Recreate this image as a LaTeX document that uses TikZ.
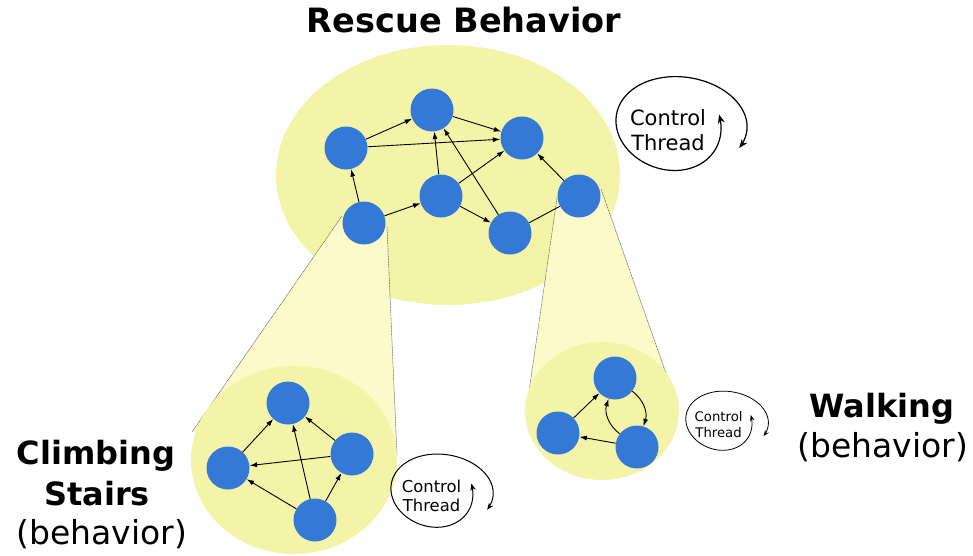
\documentclass[tikz,border=0pt]{standalone}
\usepackage{fontspec}
\setmainfont{DejaVu Sans}
\usetikzlibrary{arrows.meta}
\definecolor{nodeblue}{RGB}{53,121,214}
\definecolor{blobyellow}{RGB}{244,244,168}
\definecolor{coneyellow}{RGB}{252,250,200}

\begin{document}
\begin{tikzpicture}[x=1pt,y=-1pt,
	agent/.style={circle,fill=nodeblue,minimum size=43pt,inner sep=0pt},
	link/.style={-{Latex[length=7.5pt,width=5pt]},line width=0.9pt},
	coneline/.style={draw=black!65,line width=0.5pt,dash pattern=on 1pt off 0.6pt},
	bigtitle/.style={font=\fontsize{32}{38}\selectfont\bfseries,anchor=base},
	subtitle/.style={font=\fontsize{33}{38}\selectfont,anchor=base},
	ctrlarc/.style={line width=1.2pt,{Stealth[length=9pt,width=7pt]}-{Stealth[length=9pt,width=7pt]}},
	ctrlthread/.pic={
		\draw[ctrlarc] plot[domain=-12:390,samples=90,smooth] ({(45+(\x+12)*29/400)*cos(\x)},{(46+(\x+12)*2/400)*sin(\x)});
		\node[transform shape,align=center,font=\fontsize{21}{25}\selectfont] (-txt) at (-7,6) {Control\\Thread};
	}]
	\useasboundingbox (0,0) rectangle (973,555);
	
	%Shape: Ellipse (rescue)
	\fill[blobyellow] (448,175) ellipse [x radius=172,y radius=130];
	
	%Shape: Cones
	\fill[coneyellow] (342,216) -- (192,432) -- (397,455) -- (387,227) -- cycle;
	\draw[coneline] (342,216) -- (192,432);
	\draw[coneline] (387,227) -- (397,455);
	\fill[coneyellow] (557,198) -- (526,412) -- (679,410) -- (601,189) -- cycle;
	\draw[coneline] (557,198) -- (526,412);
	\draw[coneline] (601,189) -- (679,410);
	
	%Shape: Ellipses (climbing, walking)
	\fill[blobyellow] (294,460) ellipse [x radius=103,y radius=94];
	\fill[blobyellow] (602,411) ellipse [x radius=77,y radius=69];
	
	% Rescue nodes
	\node[agent] (A) at (432,110) {};
	\node[agent] (B) at (522,138) {};
	\node[agent] (C) at (346,148) {};
	\node[agent] (D) at (441,196) {};
	\node[agent] (E) at (579,196) {};
	\node[agent] (F) at (364,223) {};
	\node[agent] (G) at (510,233) {};
	
	%Straight Lines
	\draw[link] (C) -- (A);
	\draw[link] (C) -- (B);
	\draw[link] (A) -- (B);
	\draw[link] (F) -- (C);
	\draw[link] (F) -- (D);
	\draw[link] (D) -- (A);
	\draw[link] (D) -- (B);
	\draw[link] (D) -- (G);
	\draw[link] (G) -- (A);
	\draw[line width=0.9pt] (G) -- (E);
	\draw[link] (E) -- (B);
	
	% Climbing nodes
	\node[agent] (cT) at (288,403) {};
	\node[agent] (cL) at (228,468) {};
	\node[agent] (cR) at (352,454) {};
	\node[agent] (cB) at (315,520) {};
	\draw[link] (cL) -- (cT);
	\draw[link] (cR) -- (cT);
	\draw[link] (cR) -- (cL);
	\draw[link] (cB) -- (cL);
	\draw[link] (cB) -- (cT);
	\draw[link] (cB) -- (cR);
	
	% Walking nodes
	\node[agent] (wT) at (615,378) {};
	\node[agent] (wL) at (558,433) {};
	\node[agent] (wR) at (637,447) {};
	\draw[link] (wL) -- (wT);
	\draw[link] (wR) -- (wL);
	\draw[link] (wT) to[bend left=35] (wR);
	\draw[link] (wR) to[bend left=35] (wT);
	
	% Control threads
	\pic (ctmain) at (675,124) {ctrlthread};
	\pic[scale=0.78,ctrlarc/.append style={line width=1pt,{Stealth[length=7pt,width=5.5pt]}-{Stealth[length=7pt,width=5.5pt]}}] (ctclimb) at (437,491) {ctrlthread};
	\pic[scale=0.63,ctrlarc/.append style={line width=0.8pt,{Stealth[length=6pt,width=4.5pt]}-{Stealth[length=6pt,width=4.5pt]}}] (ctwalk) at (723,421) {ctrlthread};
	
	% Text Node
	\node[bigtitle,font=\fontsize{33.5}{38}\selectfont\bfseries] (rescue) at (464,32) {Rescue Behavior};
	\node[bigtitle] (climbing) at (96,464) {Climbing};
	\node[bigtitle] (stairs) at (97,505) {Stairs};
	\node[subtitle] (climbbeh) at (102,544) {(behavior)};
	\node[bigtitle] (walking) at (882,417) {Walking};
	\node[subtitle] (walkbeh) at (883,457) {(behavior)};
\end{tikzpicture}
\end{document}
